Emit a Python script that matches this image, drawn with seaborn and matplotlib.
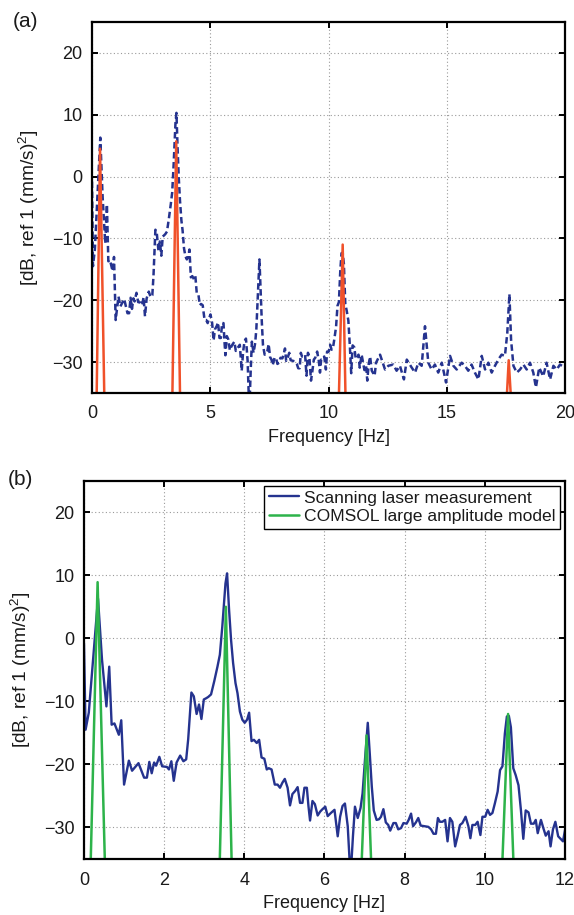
import matplotlib
matplotlib.use("Agg")
import matplotlib.pyplot as plt
import seaborn as sns
import pandas as pd

# ---------------- data ----------------
meas_freq = [
    0.00, 0.04, 0.12, 0.20, 0.35, 0.45, 0.56, 0.63, 0.69, 0.76, 0.87, 0.93,
    1.00, 1.12, 1.20, 1.36, 1.50, 1.57, 1.63, 1.69, 1.75, 1.80, 1.88, 1.95,
    2.07, 2.12, 2.18, 2.24, 2.31, 2.40, 2.48, 2.55, 2.60, 2.68, 2.74, 2.81,
    2.87, 2.93, 2.99, 3.05, 3.10, 3.17, 3.25, 3.33, 3.39, 3.45, 3.50, 3.53,
    3.57, 3.62, 3.67, 3.72, 3.78, 3.83, 3.89, 3.95, 4.01, 4.07, 4.12, 4.18,
    4.24, 4.31, 4.37, 4.43, 4.50, 4.56, 4.61, 4.68, 4.76, 4.83, 4.89, 4.95,
    5.01, 5.08, 5.14, 5.20, 5.27, 5.33, 5.39, 5.45, 5.50, 5.56, 5.60, 5.64,
    5.70, 5.76, 5.83, 5.89, 5.95, 6.02, 6.08, 6.16, 6.25, 6.33, 6.39, 6.45,
    6.51, 6.58, 6.65, 6.71, 6.76, 6.83, 6.90, 6.95, 7.01, 7.08, 7.13, 7.18,
    7.23, 7.30, 7.36, 7.41, 7.47, 7.53, 7.59, 7.64, 7.72, 7.78, 7.84, 7.91,
    7.97, 8.05, 8.10, 8.16, 8.21, 8.28, 8.34, 8.40, 8.49, 8.59, 8.66, 8.72,
    8.78, 8.83, 8.88, 8.94, 9.01, 9.07, 9.13, 9.19, 9.26, 9.32, 9.38, 9.44,
    9.52, 9.59, 9.64, 9.69, 9.76, 9.82, 9.89, 9.94, 10.01, 10.07, 10.13, 10.19,
    10.25, 10.32, 10.38, 10.44, 10.50, 10.55, 10.60, 10.65, 10.71, 10.77, 10.84, 10.90,
    10.96, 11.02, 11.09, 11.15, 11.22, 11.27, 11.32, 11.40, 11.46, 11.52, 11.59, 11.64,
    11.70, 11.76, 11.83, 11.89, 11.95, 12.01, 12.18, 12.39, 12.53, 12.74, 12.88, 13.02,
    13.19, 13.31, 13.52, 13.66, 13.80, 13.94, 14.08, 14.22, 14.36, 14.50, 14.64, 14.79,
    14.97, 15.14, 15.28, 15.42, 15.63, 15.77, 15.91, 16.05, 16.19, 16.34, 16.48, 16.62,
    16.76, 16.90, 17.04, 17.18, 17.32, 17.46, 17.56, 17.65, 17.72, 17.82, 17.96, 18.10,
    18.24, 18.38, 18.52, 18.66, 18.77, 18.91, 19.08, 19.22, 19.37, 19.51, 19.65, 19.79,
    20.00,
]
meas_db = [
    -0.8, -14.5, -11.8, -5.5, 6.3, -3.4, -10.8, -4.5, -13.7, -13.5, -15.3, -13.0,
    -23.2, -19.4, -21.0, -19.8, -22.1, -22.1, -19.6, -21.4, -19.7, -20.2, -18.8, -20.3,
    -20.4, -20.8, -19.5, -22.6, -19.7, -18.6, -19.5, -19.2, -16.0, -8.6, -9.2, -12.0,
    -10.5, -12.8, -9.7, -9.5, -9.3, -8.9, -6.8, -4.5, -2.6, 1.8, 6.0, 8.7,
    10.3, 4.5, -0.3, -3.9, -7.1, -8.7, -11.6, -12.9, -13.4, -12.9, -11.8, -16.3,
    -16.1, -16.6, -16.1, -18.9, -19.1, -20.8, -20.6, -20.8, -23.2, -23.2, -23.7, -22.9,
    -22.3, -23.7, -26.5, -24.7, -24.2, -23.6, -26.1, -26.1, -23.7, -23.7, -26.6, -28.9,
    -25.8, -26.3, -28.1, -27.5, -27.1, -26.7, -28.2, -27.7, -27.2, -31.4, -28.3, -26.6,
    -26.2, -29.8, -38.0, -31.4, -26.7, -28.5, -26.9, -24.6, -19.3, -13.4, -18.3, -23.5,
    -27.3, -28.8, -28.7, -28.3, -27.1, -29.2, -29.6, -30.5, -29.3, -29.3, -30.3, -30.1,
    -29.3, -29.4, -28.8, -27.8, -29.8, -29.2, -28.5, -29.7, -29.8, -29.9, -30.3, -31.0,
    -31.0, -28.5, -29.1, -29.1, -28.8, -32.2, -28.5, -29.1, -33.0, -31.4, -29.6, -29.3,
    -28.3, -29.8, -31.7, -29.6, -29.6, -29.1, -31.2, -28.3, -28.3, -27.2, -28.0, -27.7,
    -26.2, -24.3, -20.9, -20.3, -15.1, -12.4, -12.3, -14.1, -20.6, -21.7, -23.3, -27.2,
    -31.8, -27.3, -27.6, -29.4, -29.4, -28.8, -30.9, -28.8, -30.1, -31.3, -30.6, -33.0,
    -30.3, -29.1, -31.4, -31.8, -32.2, -30.1, -28.8, -31.2, -30.6, -30.4, -31.4, -30.6,
    -32.8, -29.6, -30.9, -31.7, -30.1, -30.6, -24.2, -30.1, -31.2, -30.4, -31.7, -30.1,
    -33.3, -29.0, -30.6, -31.2, -30.1, -30.6, -31.4, -30.4, -31.7, -32.8, -29.0, -31.2,
    -30.1, -31.7, -30.6, -29.6, -28.8, -29.0, -25.3, -19.0, -26.4, -30.6, -31.7, -31.2,
    -30.4, -31.2, -30.1, -31.7, -34.1, -30.9, -32.3, -30.1, -32.8, -30.6, -31.2, -30.4,
    -30.9,
]

# model (a): orange
model_a_freq = [0.00, 0.18, 0.34, 0.54, 3.38, 3.56, 3.74, 10.41, 10.60, 10.74,
                17.48, 17.62, 17.78, 20.00]
model_a_db = [-40, -40, 4.5, -40, -40, 5.7, -40, -40, -11.0, -40,
              -40, -29.7, -40, -40]

# model (b): green
model_b_freq = [0.00, 0.15, 0.34, 0.54, 3.37, 3.54, 3.70, 6.90, 7.05, 7.19,
                10.41, 10.58, 10.74, 12.00]
model_b_db = [-40, -40, 8.9, -40, -40, 5.0, -40, -40, -15.4, -40,
              -40, -12.0, -40, -40]

legend_labels = ["Scanning laser measurement", "COMSOL large amplitude model"]
xticks_a = [0, 5, 10, 15, 20]
xticks_b = [0, 2, 4, 6, 8, 10, 12]
yticks = [-30, -20, -10, 0, 10, 20]

# ---------------- style ----------------
sns.set_theme(style="white")
plt.rcParams["font.family"] = ["Liberation Sans", "DejaVu Sans"]
plt.rcParams["mathtext.fontset"] = "custom"
plt.rcParams["mathtext.rm"] = "Liberation Sans"
plt.rcParams["mathtext.it"] = "Liberation Sans:italic"
plt.rcParams["mathtext.bf"] = "Liberation Sans:bold"

BLUE = "#25338F"
ORANGE = "#F0512A"
GREEN = "#2DB34A"
TXT = "#1a1a1a"
FS = 13

meas_df = pd.DataFrame({"f": meas_freq, "db": meas_db})
ma_df = pd.DataFrame({"f": model_a_freq, "db": model_a_db})
mb_df = pd.DataFrame({"f": model_b_freq, "db": model_b_db})

fig = plt.figure(figsize=(5.74, 9.15), dpi=100)
ax1 = fig.add_axes([0.1603, 0.5705, 0.824, 0.4055])
ax2 = fig.add_axes([0.1463, 0.0612, 0.838, 0.4135])


def style_axes(ax, xlim, xticks):
    ax.set_xlim(*xlim)
    ax.set_ylim(-35, 25)
    ax.set_xticks(xticks)
    ax.set_yticks(yticks)
    ax.set_xticklabels([str(t) for t in xticks])
    ax.set_yticklabels([str(t).replace("-", "\u2212") for t in yticks])
    ax.grid(True, color="#9a9a9a", linestyle=(0, (1, 2.2)), linewidth=0.8)
    ax.set_axisbelow(True)
    for s in ax.spines.values():
        s.set_visible(True)
        s.set_color("black")
        s.set_linewidth(1.6)
    ax.tick_params(axis="both", which="both", direction="in", length=4, width=1.4,
                   top=True, right=True, bottom=True, left=True,
                   labelsize=FS, colors="black")
    ax.tick_params(axis="x", pad=9)
    ax.tick_params(axis="y", pad=7)
    ax.set_xlabel("Frequency [Hz]", fontsize=FS, labelpad=5, color=TXT)
    ax.set_ylabel("[dB, ref 1 (mm/s)$^{2}$]", fontsize=13.8, labelpad=8, color=TXT)
    for lab in ax.get_xticklabels() + ax.get_yticklabels():
        lab.set_color(TXT)


# panel (a)
sns.lineplot(data=meas_df, x="f", y="db", ax=ax1, color=BLUE, linewidth=1.8,
             estimator=None, sort=False)
ax1.lines[-1].set_dashes((2.6, 1.4))
sns.lineplot(data=ma_df, x="f", y="db", ax=ax1, color=ORANGE, linewidth=1.8,
             estimator=None, sort=False)
style_axes(ax1, (0, 20), xticks_a)

# panel (b)
sns.lineplot(data=meas_df, x="f", y="db", ax=ax2, color=BLUE, linewidth=1.7,
             estimator=None, sort=False, label=legend_labels[0])
sns.lineplot(data=mb_df, x="f", y="db", ax=ax2, color=GREEN, linewidth=1.8,
             estimator=None, sort=False, label=legend_labels[1])
style_axes(ax2, (0, 12), xticks_b)
leg = ax2.legend(loc="upper right", fontsize=12.6, frameon=True, fancybox=False,
                 framealpha=1, edgecolor="black", borderaxespad=0.3,
                 handlelength=1.7, handletextpad=0.3, labelspacing=0.2,
                 borderpad=0.25)
leg.get_frame().set_linewidth(1.0)
for t in leg.get_texts():
    t.set_color(TXT)

fig.text(0.022, 0.977, "(a)", fontsize=15, va="center", ha="left", color=TXT)
fig.text(0.013, 0.4765, "(b)", fontsize=15, va="center", ha="left", color=TXT)

fig.savefig("out.png", dpi=100)
